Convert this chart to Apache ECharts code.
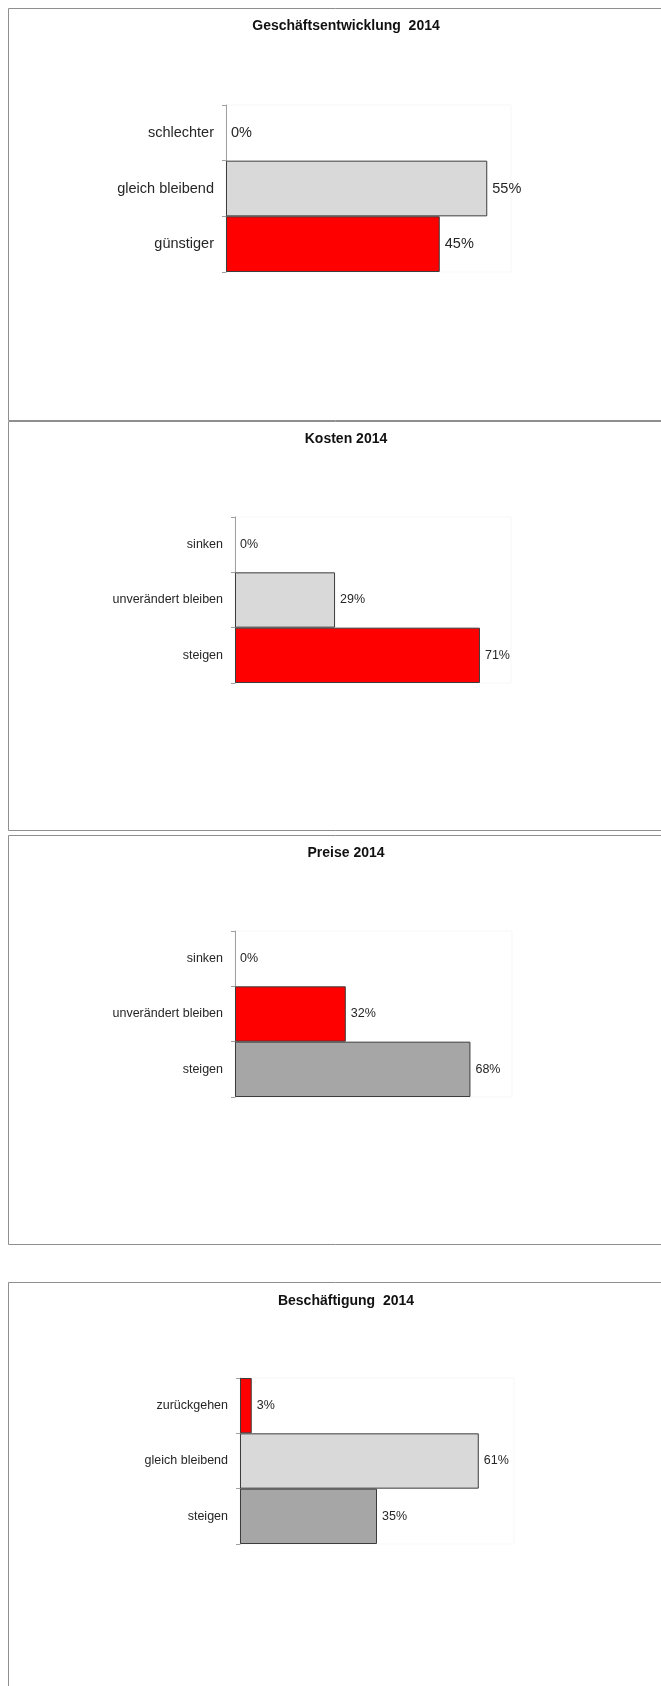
<!DOCTYPE html>
<html>
<head>
<meta charset="utf-8">
<script src="https://cdn.jsdelivr.net/npm/echarts@6/dist/echarts.min.js"></script>
<style>
html,body{margin:0;padding:0;background:#fff;}
#c{width:661px;height:1686px;}
</style>
</head>
<body>
<div id="c"></div>
<script>
// ---- data ----
const titles = ['Geschäftsentwicklung  2014', 'Kosten 2014', 'Preise 2014', 'Beschäftigung  2014'];

const cats1 = ['schlechter', 'gleich bleibend', 'günstiger'];
const vals1 = [0, 55, 45];

const cats2 = ['sinken', 'unverändert bleiben', 'steigen'];
const vals2 = [0, 29, 71];

const cats3 = ['sinken', 'unverändert bleiben', 'steigen'];
const vals3 = [0, 32, 68];

const cats4 = ['zurückgehen', 'gleich bleibend', 'steigen'];
const vals4 = [3, 61, 35];

const axisMax = [60, 80, 80, 70];

// ---- styles ----
const RED = '#ff0000', LIGHT = '#d9d9d9', DARK = '#a6a6a6';
const colors = [
  [LIGHT, LIGHT, RED],
  [LIGHT, LIGHT, RED],
  [RED, RED, DARK],
  [RED, LIGHT, DARK]
];
const FONT = '"Liberation Sans", Arial, Helvetica, sans-serif';
const grids = [
  {left: 226, top: 105, width: 285, height: 167},
  {left: 235, top: 517, width: 276, height: 166},
  {left: 235, top: 931, width: 277, height: 166},
  {left: 240, top: 1378, width: 274, height: 166}
];
const titleY = [27, 440, 854, 1302];
const fontSizes = [14.5, 12.5, 12.5, 12.5];
const frames = [
  {y: 8, h: 412},
  {y: 421, h: 409},
  {y: 835, h: 409},
  {y: 1282, h: 450}
];

const catsAll = [cats1, cats2, cats3, cats4];
const valsAll = [vals1, vals2, vals3, vals4];

const option = {
  backgroundColor: '#ffffff',
  animation: false,
  title: titles.map((t, i) => ({
    text: t,
    left: 346,
    top: titleY[i] - 8,
    textAlign: 'center',
    padding: 0,
    textStyle: {fontFamily: FONT, fontSize: 14, fontWeight: 'bold', color: '#111'}
  })),
  grid: grids.map(g => Object.assign({
    show: true, borderColor: '#f7f7f7', borderWidth: 1, backgroundColor: 'transparent'
  }, g)),
  xAxis: grids.map((g, i) => ({
    type: 'value', gridIndex: i, min: 0, max: axisMax[i], show: false,
    splitLine: {show: false}
  })),
  yAxis: grids.map((g, i) => ({
    type: 'category', gridIndex: i, data: catsAll[i], inverse: true,
    boundaryGap: true,
    axisLine: {show: true, lineStyle: {color: '#a0a0a0', width: 1}},
    axisTick: {show: true, length: 4, lineStyle: {color: '#a0a0a0'}},
    axisLabel: {margin: 12, fontFamily: FONT, fontSize: fontSizes[i], color: '#262626'},
    splitLine: {show: false}
  })),
  series: valsAll.map((vals, i) => ({
    type: 'bar', xAxisIndex: i, yAxisIndex: i,
    barCategoryGap: '0%',
    data: vals.map((v, j) => ({
      value: v,
      itemStyle: {color: colors[i][j], borderColor: '#3c3c3c', borderWidth: v === 0 ? 0 : 1}
    })),
    label: {
      show: true, position: 'right', distance: 5,
      formatter: p => p.value + '%',
      fontFamily: FONT, fontSize: fontSizes[i], color: '#262626'
    }
  })),
  graphic: frames.map(f => ({
    type: 'rect', silent: true, z: -1,
    shape: {x: 8.5, y: f.y + 0.5, width: 700, height: f.h},
    style: {fill: 'none', stroke: '#8f8f8f', lineWidth: 1}
  }))
};

const chart = echarts.init(document.getElementById('c'), null, {renderer: 'canvas'});
chart.setOption(option);
</script>
</body>
</html>
